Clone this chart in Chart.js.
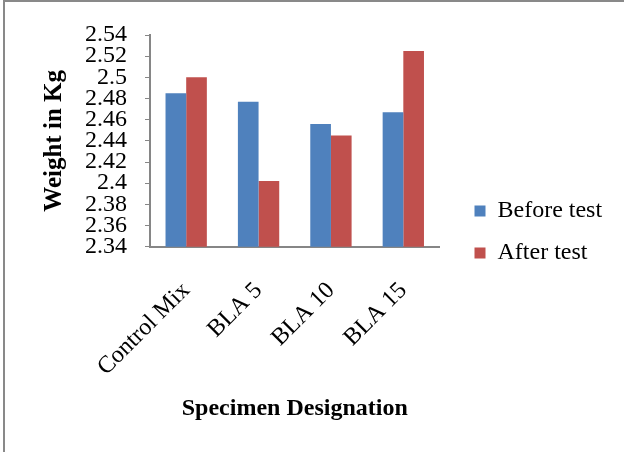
<!DOCTYPE html>
<html>
<head>
<meta charset="utf-8">
<script src="https://cdn.jsdelivr.net/npm/chart.js@4.4.1/dist/chart.umd.min.js"></script>
<style>
  html, body { margin: 0; padding: 0; background: #fff; overflow: hidden; }
  #wrap { position: relative; width: 624px; height: 452px; overflow: hidden; }
  #frame { position: absolute; left: 3px; top: 0; width: 700px; height: 600px;
           border-top: 2px solid #898989; border-left: 2px solid #898989; pointer-events: none; }
  canvas { position: absolute; left: 0; top: 0; }
</style>
</head>
<body>
<div id="wrap">
  <canvas id="c" width="624" height="452"></canvas>
  <div id="frame"></div>
</div>
<script>
// Specimen weights (kg) before and after the test
const categories = ['Control Mix', 'BLA 5', 'BLA 10', 'BLA 15'];
const beforeTest = [2.485, 2.477, 2.456, 2.467];
const afterTest  = [2.500, 2.402, 2.445, 2.525];
const yTickLabels = ['2.34', '2.36', '2.38', '2.4', '2.42', '2.44', '2.46', '2.48', '2.5', '2.52', '2.54'];

const SERIF = '"Liberation Serif", "Times New Roman", Times, serif';
Chart.defaults.font.family = SERIF;
Chart.defaults.color = '#000';

// Nudge the legend to the right of the slot reserved for it
const legendShift = {
  id: 'legendShift',
  afterLayout(chart) {
    const lg = chart.legend;
    if (lg) { lg.left += 17; lg.right += 17; }
  }
};

new Chart(document.getElementById('c'), {
  type: 'bar',
  data: {
    labels: categories,
    datasets: [
      { label: 'Before test', data: beforeTest, backgroundColor: '#4F81BD',
        categoryPercentage: 0.571, barPercentage: 1 },
      { label: 'After test', data: afterTest, backgroundColor: '#C0504D',
        categoryPercentage: 0.571, barPercentage: 1 }
    ]
  },
  options: {
    responsive: false,
    animation: false,
    devicePixelRatio: 1,
    layout: { padding: { left: 0, top: 12, right: 38, bottom: 0 } },
    plugins: {
      legend: {
        position: 'right',
        align: 'center',
        labels: { boxWidth: 11, boxHeight: 11, padding: 18, color: '#000', font: { size: 24 } }
      },
      tooltip: { enabled: false }
    },
    scales: {
      x: {
        grid: { display: true, drawOnChartArea: false, drawTicks: false },
        border: { display: true, color: '#868686', width: 2 },
        ticks: { font: { size: 24 }, color: '#000', minRotation: 45, maxRotation: 45,
                 autoSkip: false, padding: 30 },
        title: { display: true, text: 'Specimen Designation', align: 'center', color: '#000',
                 font: { size: 24, weight: 'bold' }, padding: { top: 0, bottom: 29 } },
        afterFit(s) { s.height = 205.3; }
      },
      y: {
        min: 2.34,
        max: 2.54,
        grid: { display: true, drawOnChartArea: false, drawTicks: true, tickLength: 5,
                color: '#868686', lineWidth: 1 },
        border: { display: true, color: '#868686', width: 2 },
        ticks: { stepSize: 0.02, autoSkip: false, font: { size: 24 }, color: '#000', padding: 18,
                 callback: (v, i) => yTickLabels[i] },
        title: { display: true, text: 'Weight in Kg', color: '#000',
                 font: { size: 25, weight: 'bold' }, padding: { top: 40, bottom: 0 } },
        afterFit(s) { s.width = 150; s.paddingTop = 35; }
      }
    }
  },
  plugins: [legendShift]
});
</script>
</body>
</html>
